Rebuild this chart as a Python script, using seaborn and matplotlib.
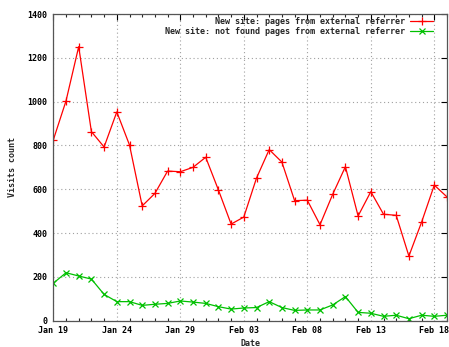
import matplotlib
matplotlib.use("Agg")
import matplotlib.pyplot as plt
import matplotlib.dates as mdates
import seaborn as sns
import pandas as pd
import numpy as np

dates = pd.date_range("2011-01-19", "2011-02-19", freq="D")
pages_external = [825, 1003, 1251, 863, 793, 953, 802, 524, 581, 683, 680, 700,
                  746, 597, 441, 473, 651, 781, 724, 548, 550, 438, 577, 703,
                  478, 589, 486, 481, 295, 450, 619, 565]
notfound_external = [171, 219, 204, 190, 120, 87, 87, 70, 75, 79, 90, 85,
                     79, 64, 53, 58, 60, 87, 60, 47, 49, 49, 72, 110,
                     38, 34, 20, 25, 9, 25, 20, 25]
label_red = "New site: pages from external referrer"
label_green = "New site: not found pages from external referrer"
major_ticks = ["2011-01-19", "2011-01-24", "2011-01-29", "2011-02-03",
               "2011-02-08", "2011-02-13", "2011-02-18"]

sns.set_style("white")
plt.rcParams['font.family'] = ['DejaVu Sans Mono', 'DejaVu Sans']
plt.rcParams['font.weight'] = 'bold'

fig = plt.figure(figsize=(4.49, 3.47), dpi=100)
ax = fig.add_axes([53.3 / 449, 26.3 / 347, (447 - 53.3) / 449, (320.7 - 14) / 347])

df_r = pd.DataFrame({"Date": dates, "Visits count": pages_external})
df_g = pd.DataFrame({"Date": dates, "Visits count": notfound_external})

sns.lineplot(data=df_r, x="Date", y="Visits count", ax=ax, color="#ff0000",
             marker="+", markersize=5.5, markeredgewidth=0.9,
             markeredgecolor="#ff0000", linewidth=0.9, label=label_red)
sns.lineplot(data=df_g, x="Date", y="Visits count", ax=ax, color="#00c000",
             marker="x", markersize=4.2, markeredgewidth=0.9,
             markeredgecolor="#00c000", linewidth=0.9, label=label_green)

ax.set_ylim(0, 1400)
ax.set_yticks(np.arange(0, 1401, 200))
ax.set_xlim(dates[0], dates[-1])
major = [pd.Timestamp(d) for d in major_ticks]
ax.set_xticks(major)
ax.set_xticklabels([d.strftime("%b %d") for d in major])
ax.xaxis.set_minor_locator(mdates.DayLocator())

ax.grid(True, which="major", linestyle=(0, (1, 2.5)), color="#a0a0a0", linewidth=0.8)
ax.tick_params(axis="both", which="major", direction="in", length=4, width=0.8,
               top=True, right=True, labelsize=6, pad=4, colors="#000000")
ax.tick_params(axis="x", which="minor", direction="in", length=2, width=0.8,
               top=True, bottom=True)
for s in ax.spines.values():
    s.set_color("#555555")
    s.set_linewidth(0.9)

ax.set_xlabel("Date", fontsize=6, fontweight="bold", labelpad=3)
ax.set_ylabel("Visits count", fontsize=6, fontweight="bold", labelpad=8)

leg = ax.legend(loc="upper right", bbox_to_anchor=(1 - 8 / 394, 1 + 3 / 307),
                frameon=False, markerfirst=False, fontsize=6,
                handlelength=2.8, handletextpad=0.6, labelspacing=0.15,
                borderaxespad=0.3)

fig.savefig("out.png", dpi=100)
